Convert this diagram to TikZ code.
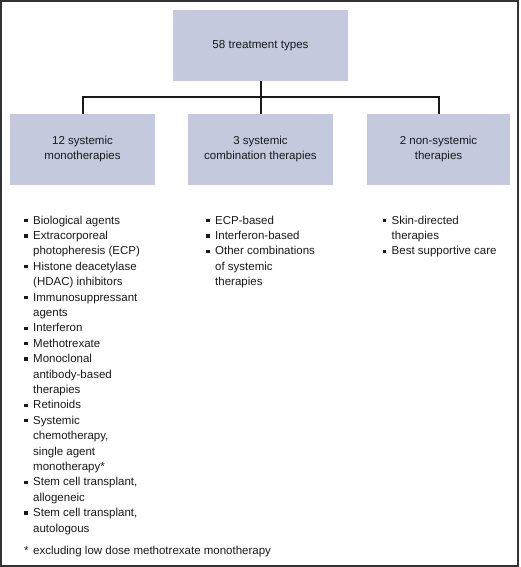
\documentclass[tikz,border=0pt]{standalone}
\usepackage{fontspec}
\setmainfont{Liberation Sans}
\definecolor{boxfill}{RGB}{197,201,221}
\definecolor{framec}{RGB}{50,50,50}
\definecolor{linec}{RGB}{25,25,25}
\definecolor{textc}{RGB}{25,25,25}
\newcommand\bitem[1]{\par\hangindent=9pt\hangafter=1\noindent\makebox[9pt][l]{\rule[1.8pt]{3.4pt}{3.4pt}}#1}
\newcommand\listfont{\fontsize{11.5}{15.4}\selectfont}
\tikzset{
  catbox/.style={fill=boxfill, draw=none, align=center, text=textc,
    font=\fontsize{11.5}{15}\selectfont, minimum height=71pt, inner sep=0pt},
  topbox/.style={catbox, font=\fontsize{11.6}{14}\selectfont},
  conn/.style={draw=linec, line width=2pt},
  listnode/.style={anchor=base west, inner sep=0pt, text=textc},
  frame/.style={draw=framec, line width=2pt}
}
\begin{document}
\begin{tikzpicture}[x=1pt, y=-1pt]
\useasboundingbox (0,0) rectangle (520,567);
\draw[frame] (1,1) rectangle (518,566);
\node[topbox, minimum width=175pt] (top) at (260.5,45.5) {58 treatment types};
\node[catbox, minimum width=145pt] (b1) at (82.5,149.5) {12 systemic\\monotherapies};
\node[catbox, minimum width=145pt] (b2) at (260.5,149.5) {3 systemic\\combination therapies};
\node[catbox, minimum width=143pt] (b3) at (438.5,149.5) {2 non-systemic\\therapies};
\coordinate (hub) at (260.5,97);
\draw[conn] (top.south) -- (b2.north);
\draw[conn] (b1.north) -- (b1.north |- hub) -- (b3.north |- hub) -- (b3.north);
\node[listnode] (l1) at (24,224) {\begin{minipage}[t]{160pt}\listfont
\bitem{Biological agents}
\bitem{Extracorporeal\\photopheresis (ECP)}
\bitem{Histone deacetylase\\(HDAC) inhibitors}
\bitem{Immunosuppressant\\agents}
\bitem{Interferon}
\bitem{Methotrexate}
\bitem{Monoclonal\\antibody-based\\therapies}
\bitem{Retinoids}
\bitem{Systemic\\chemotherapy,\\single agent\\monotherapy*}
\bitem{Stem cell transplant,\\allogeneic}
\bitem{Stem cell transplant,\\autologous}
\end{minipage}};
\node[listnode] (l2) at (206,224) {\begin{minipage}[t]{150pt}\listfont
\bitem{ECP-based}
\bitem{Interferon-based}
\bitem{Other combinations\\of systemic\\therapies}
\end{minipage}};
\node[listnode] (l3) at (382.5,224) {\begin{minipage}[t]{130pt}\listfont
\bitem{Skin-directed\\therapies}
\bitem{Best supportive care}
\end{minipage}};
\node[listnode, font=\listfont] (fn) at (24,554) {\makebox[9pt][l]{*}excluding low dose methotrexate monotherapy};
\end{tikzpicture}
\end{document}
